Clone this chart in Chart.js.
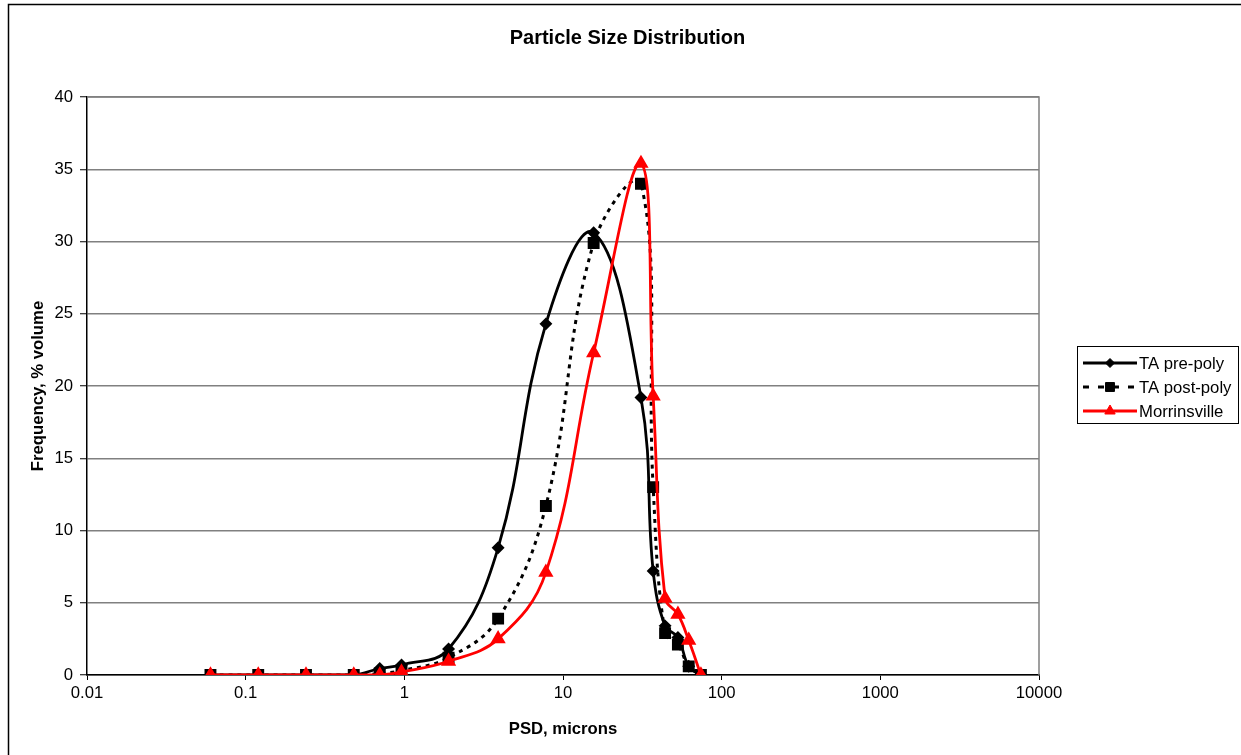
<!DOCTYPE html>
<html>
<head>
<meta charset="utf-8">
<script src="https://cdn.jsdelivr.net/npm/chart.js@4.4.1/dist/chart.umd.min.js"></script>
<style>
  html, body { margin: 0; padding: 0; background: #fff; }
  #wrap { width: 1241px; height: 755px; position: relative; }
</style>
</head>
<body>
<div id="wrap"><canvas id="psdChart"></canvas></div>
<script>
// particle size bins (microns) and % volume for each sample
const sizes = [0.06, 0.12, 0.24, 0.48, 0.7, 0.96, 1.9, 3.9, 7.8, 15.6, 31, 37, 44, 53, 62, 74];
const prePoly = [0, 0, 0, 0, 0.45, 0.7, 1.8, 8.8, 24.3, 30.6, 19.2, 7.2, 3.4, 2.6, 0.6, 0];
const postPoly = [0, 0, 0, 0, 0.1, 0.3, 1.2, 3.9, 11.7, 29.9, 34.0, 13.0, 2.9, 2.1, 0.6, 0];
const morrinsville = [0, 0, 0, 0, 0, 0.2, 0.95, 2.5, 7.1, 22.3, 35.4, 19.3, 5.3, 4.2, 2.4, 0];
const seriesNames = ['TA pre-poly', 'TA post-poly', 'Morrinsville'];
const xTickValues = [0.01, 0.1, 1, 10, 100, 1000, 10000];

const FONT = 'Arial, "Liberation Sans", sans-serif';

function toPoints(ys) {
  return sizes.map((x, i) => ({ x: x, y: ys[i] }));
}

// white background, outer frame and plot frame (top/right)
const framePlugin = {
  id: 'frame',
  beforeDraw(chart) {
    const ctx = chart.ctx;
    ctx.save();
    ctx.fillStyle = '#fff';
    ctx.fillRect(0, 0, chart.width, chart.height);
    ctx.strokeStyle = '#000';
    ctx.lineWidth = 1.5;
    ctx.strokeRect(8.5, 4.5, chart.width + 20, chart.height + 20);
    ctx.restore();
  },
  beforeDatasetsDraw(chart) {
    const a = chart.chartArea;
    const ctx = chart.ctx;
    ctx.save();
    ctx.strokeStyle = '#808080';
    ctx.lineWidth = 1.5;
    ctx.beginPath();
    ctx.moveTo(a.left, a.top);
    ctx.lineTo(a.right, a.top);
    ctx.lineTo(a.right, a.bottom);
    ctx.stroke();
    ctx.restore();
  }
};

// Excel-like legend box: line sample with marker in the middle
const legendPlugin = {
  id: 'boxLegend',
  afterDraw(chart) {
    const ctx = chart.ctx;
    const box = { x: 1077, y: 346, w: 161, h: 77 };
    ctx.save();
    ctx.strokeStyle = '#000';
    ctx.lineWidth = 1;
    ctx.strokeRect(box.x + 0.5, box.y + 0.5, box.w, box.h);
    ctx.font = '16.7px ' + FONT;
    ctx.textBaseline = 'middle';
    ctx.fillStyle = '#000';
    chart.data.datasets.forEach((ds, i) => {
      const y = box.y + 17 + i * 24;
      ctx.save();
      ctx.strokeStyle = ds.borderColor;
      ctx.lineWidth = ds.borderWidth;
      ctx.setLineDash(ds.borderDash ? [6, 9] : []);
      ctx.beginPath();
      ctx.moveTo(box.x + 6, y);
      ctx.lineTo(box.x + 60, y);
      ctx.stroke();
      ctx.restore();
      ctx.fillStyle = ds.pointBackgroundColor;
      ctx.strokeStyle = ds.pointBorderColor;
      ctx.lineWidth = 1;
      Chart.helpers.drawPoint(ctx, { pointStyle: ds.pointStyle, radius: ds.pointRadius, borderWidth: 1 }, box.x + 33, y);
      ctx.fillStyle = '#000';
      ctx.fillText(ds.label, box.x + 62, y + 1);
    });
    ctx.restore();
  }
};

const ctx = document.getElementById('psdChart').getContext('2d');
const chart = new Chart(ctx, {
  type: 'line',
  data: {
    datasets: [
      {
        label: seriesNames[0],
        data: toPoints(prePoly),
        borderColor: '#000',
        borderWidth: 2.8,
        pointStyle: 'rectRot',
        pointRadius: 4.5,
        pointBackgroundColor: '#000',
        pointBorderColor: '#000',
        tension: 0.4,
        order: 3
      },
      {
        label: seriesNames[1],
        data: toPoints(postPoly),
        borderColor: '#000',
        borderWidth: 3,
        borderDash: [4, 5],
        pointStyle: 'rect',
        pointRadius: 6.3,
        pointBackgroundColor: '#000',
        pointBorderColor: '#000',
        tension: 0.4,
        order: 2
      },
      {
        label: seriesNames[2],
        data: toPoints(morrinsville),
        borderColor: '#ff0000',
        borderWidth: 2.8,
        pointStyle: 'triangle',
        pointRadius: 6,
        pointBackgroundColor: '#ff0000',
        pointBorderColor: '#ff0000',
        tension: 0.4,
        order: 1
      }
    ]
  },
  options: {
    responsive: true,
    maintainAspectRatio: false,
    animation: false,
    layout: { padding: { left: 14, right: 0, top: 0, bottom: 0 } },
    plugins: {
      legend: { display: false },
      tooltip: { enabled: false },
      title: {
        display: true,
        text: 'Particle Size Distribution',
        color: '#000',
        font: { family: FONT, size: 20, weight: 'bold', lineHeight: 1.2 },
        padding: { top: 26, bottom: 47 }
      }
    },
    scales: {
      x: {
        type: 'logarithmic',
        min: 0.01,
        max: 10000,
        afterBuildTicks(scale) {
          scale.ticks = xTickValues.map(v => ({ value: v }));
        },
        afterFit(scale) { scale.height = 80; },
        ticks: {
          autoSkip: false,
          maxRotation: 0,
          color: '#000',
          padding: 3,
          font: { family: FONT, size: 16.7 },
          callback: (v) => String(v)
        },
        grid: { drawOnChartArea: false, tickLength: 5, tickColor: '#000', tickWidth: 1 },
        border: { color: '#000', width: 1.5 },
        title: {
          display: true,
          text: 'PSD, microns',
          color: '#000',
          font: { family: FONT, size: 16.7, weight: 'bold', lineHeight: 1.2 },
          padding: 16
        }
      },
      y: {
        min: 0,
        max: 40,
        afterFit(scale) { scale.width = 73; },
        ticks: {
          stepSize: 5,
          color: '#000',
          padding: 7,
          font: { family: FONT, size: 16.7 }
        },
        grid: { color: '#808080', lineWidth: 1.5, tickLength: 7, tickColor: '#000', tickWidth: 1 },
        border: { color: '#000', width: 1.5 },
        title: {
          display: true,
          text: 'Frequency, % volume',
          color: '#000',
          font: { family: FONT, size: 16.7, weight: 'bold', lineHeight: 1.2 },
          padding: 14
        }
      },
      // empty right-hand box that keeps room for the legend
      yRight: {
        type: 'linear',
        position: 'right',
        display: true,
        afterFit(scale) { scale.width = 202; },
        ticks: { display: false },
        grid: { display: false, drawOnChartArea: false },
        border: { display: false }
      }
    }
  },
  plugins: [framePlugin, legendPlugin]
});
</script>
</body>
</html>
